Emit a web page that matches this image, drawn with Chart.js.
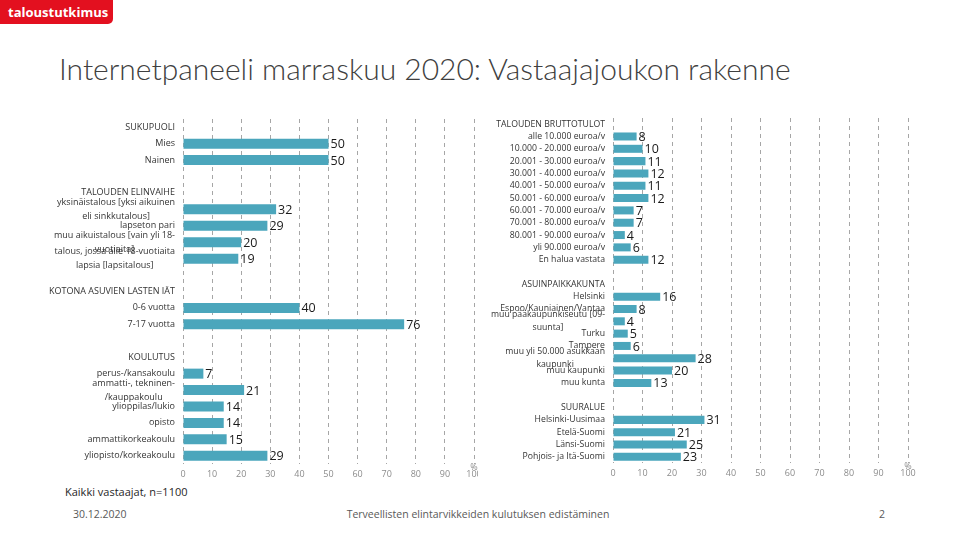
<!DOCTYPE html>
<html>
<head>
<meta charset="utf-8">
<script src="https://cdn.jsdelivr.net/npm/chart.js@4.4.1/dist/chart.umd.min.js"></script>
<style>
  body { margin: 0; width: 960px; height: 540px; background: #fff; position: relative; overflow: hidden; font-family: 'Open Sans', sans-serif; }
  .logo { position: absolute; left: 0; top: 0; width: 113px; height: 24px; background: #e3101f; border-bottom-right-radius: 5px; color: #fff; font: bold 13px 'Open Sans'; line-height: 24px; padding-left: 8px; box-sizing: border-box; }
  .title { position: absolute; left: 59px; top: 50px; font: 300 30px Lato; color: #404040; white-space: nowrap; }
  .txt { position: absolute; white-space: nowrap; font-size: 10.5px; }
  #leftWrap { position: absolute; left: 40px; top: 110px; }
  #rightWrap { position: absolute; left: 470px; top: 110px; }
</style>
</head>
<body>
<div class="logo">taloustutkimus</div>
<div class="title">Internetpaneeli marraskuu 2020: Vastaajajoukon rakenne</div>
<div id="leftWrap"><canvas id="leftChart" width="438" height="370"></canvas></div>
<div id="rightWrap"><canvas id="rightChart" width="460" height="369"></canvas></div>
<div class="txt" style="left:65px; top:484px; color:#262626; font-size:11px;">Kaikki vastaajat, n=1100</div>
<div class="txt" style="left:73px; top:507px; color:#595959;">30.12.2020</div>
<div class="txt" style="left:478px; top:507px; color:#595959; transform:translateX(-50%);">Terveellisten elintarvikkeiden kulutuksen edistäminen</div>
<div class="txt" style="left:879px; top:507px; color:#595959;">2</div>
<script>
// Data
const leftLabels = [
    'SUKUPUOLI', 'Mies', 'Nainen', '',
    'TALOUDEN ELINVAIHE',
    ['yksinäistalous [yksi aikuinen', 'eli sinkkutalous]'],
    'lapseton pari',
    ['muu aikuistalous [vain yli 18-', 'vuotiaita]'],
    ['talous, jossa alle 18-vuotiaita', 'lapsia [lapsitalous]'],
    '',
    'KOTONA ASUVIEN LASTEN IÄT', '0-6 vuotta', '7-17 vuotta', '',
    'KOULUTUS', 'perus-/kansakoulu', ['ammatti-, tekninen-', '/kauppakoulu'],
    'ylioppilas/lukio', 'opisto', 'ammattikorkeakoulu', 'yliopisto/korkeakoulu'
];
const leftValues = [null, 50, 50, null, null, 32, 29, 20, 19, null, null, 40, 76, null, null, 7, 21, 14, 14, 15, 29];

const rightLabels = [
    'TALOUDEN BRUTTOTULOT', 'alle 10.000 euroa/v', '10.000 - 20.000 euroa/v', '20.001 - 30.000 euroa/v',
    '30.001 - 40.000 euroa/v', '40.001 - 50.000 euroa/v', '50.001 - 60.000 euroa/v', '60.001 - 70.000 euroa/v',
    '70.001 - 80.000 euroa/v', '80.001 - 90.000 euroa/v', 'yli 90.000 euroa/v', 'En halua vastata', '',
    'ASUINPAIKKAKUNTA', 'Helsinki', 'Espoo/Kauniainen/Vantaa', ['muu pääkaupunkiseutu [09-', 'suunta]'],
    'Turku', 'Tampere', ['muu yli 50.000 asukkaan', 'kaupunki'], 'muu kaupunki', 'muu kunta', '',
    'SUURALUE', 'Helsinki-Uusimaa', 'Etelä-Suomi', 'Länsi-Suomi', 'Pohjois- ja Itä-Suomi'
];
const rightValues = [null, 8, 10, 11, 12, 11, 12, 7, 7, 4, 6, 12, null, null, 16, 8, 4, 5, 6, 28, 20, 13, null, null, 31, 21, 25, 23];

const xTicks = [0, 10, 20, 30, 40, 50, 60, 70, 80, 90, 100];

const BAR_COLOR = '#4ba6bc';

// category labels, value labels and the % sign
const sideLabels = {
    id: 'sideLabels',
    afterDraw(chart, args, opts) {
        const ctx = chart.ctx;
        const yScale = chart.scales.y;
        const xScale = chart.scales.x;
        const right = chart.chartArea.left - opts.gap;
        ctx.save();
        ctx.font = opts.font;
        ctx.fillStyle = '#333333';
        ctx.textBaseline = 'middle';
        ctx.textAlign = 'center';
        chart.data.labels.forEach((lab, i) => {
            const lines = Array.isArray(lab) ? lab : [lab];
            const w = Math.max(...lines.map(l => ctx.measureText(l).width));
            const cy = yScale.getPixelForValue(i);
            lines.forEach((l, k) => {
                ctx.fillText(l, right - w / 2, cy + (k - (lines.length - 1) / 2) * opts.lineHeight);
            });
        });

        ctx.font = opts.valueFont;
        ctx.textAlign = 'left';
        ctx.fillStyle = '#1a1a1a';
        const meta = chart.getDatasetMeta(0);
        chart.data.datasets[0].data.forEach((v, i) => {
            if (v === null) return;
            const bar = meta.data[i];
            ctx.fillText(v, bar.x + 2, bar.y + 1);
        });

        ctx.font = '9px "Open Sans"';
        ctx.fillStyle = '#8c8c8c';
        ctx.textAlign = 'center';
        ctx.fillText('%', xScale.getPixelForValue(100), chart.chartArea.bottom + 3);
        ctx.restore();
    }
};

function makeChart(id, labels, values, pad, barPct, labelOpts) {
    return new Chart(document.getElementById(id), {
        type: 'bar',
        data: {
            labels,
            datasets: [{
                data: values,
                backgroundColor: BAR_COLOR,
                barPercentage: barPct,
                categoryPercentage: 1,
            }]
        },
        options: {
            indexAxis: 'y',
            responsive: false,
            animation: false,
            layout: { padding: pad },
            plugins: {
                legend: { display: false },
                tooltip: { enabled: false },
                sideLabels: labelOpts,
            },
            scales: {
                x: {
                    min: 0,
                    max: 100,
                    afterBuildTicks: s => { s.ticks = xTicks.map(v => ({ value: v })); },
                    ticks: { color: '#8c8c8c', font: { family: 'Open Sans', size: 9 }, padding: 5 },
                    grid: { color: '#a6a6a6', drawTicks: false },
                    border: { display: false, dash: [4, 4] },
                    afterFit: s => { s.height = 16; s.paddingLeft = 0; s.paddingRight = 0; }
                },
                y: { display: false }
            }
        },
        plugins: [sideLabels]
    });
}

makeChart('leftChart', leftLabels, leftValues,
    { left: 143, right: 4, top: 9, bottom: 0 }, 0.61,
    { gap: 8, font: '9px "Open Sans"', lineHeight: 14, valueFont: '12.5px "Open Sans"' });

makeChart('rightChart', rightLabels, rightValues,
    { left: 143, right: 22, top: 8, bottom: 0 }, 0.65,
    { gap: 8, font: '8.7px "Open Sans"', lineHeight: 13, valueFont: '12.5px "Open Sans"' });
</script>
</body>
</html>
